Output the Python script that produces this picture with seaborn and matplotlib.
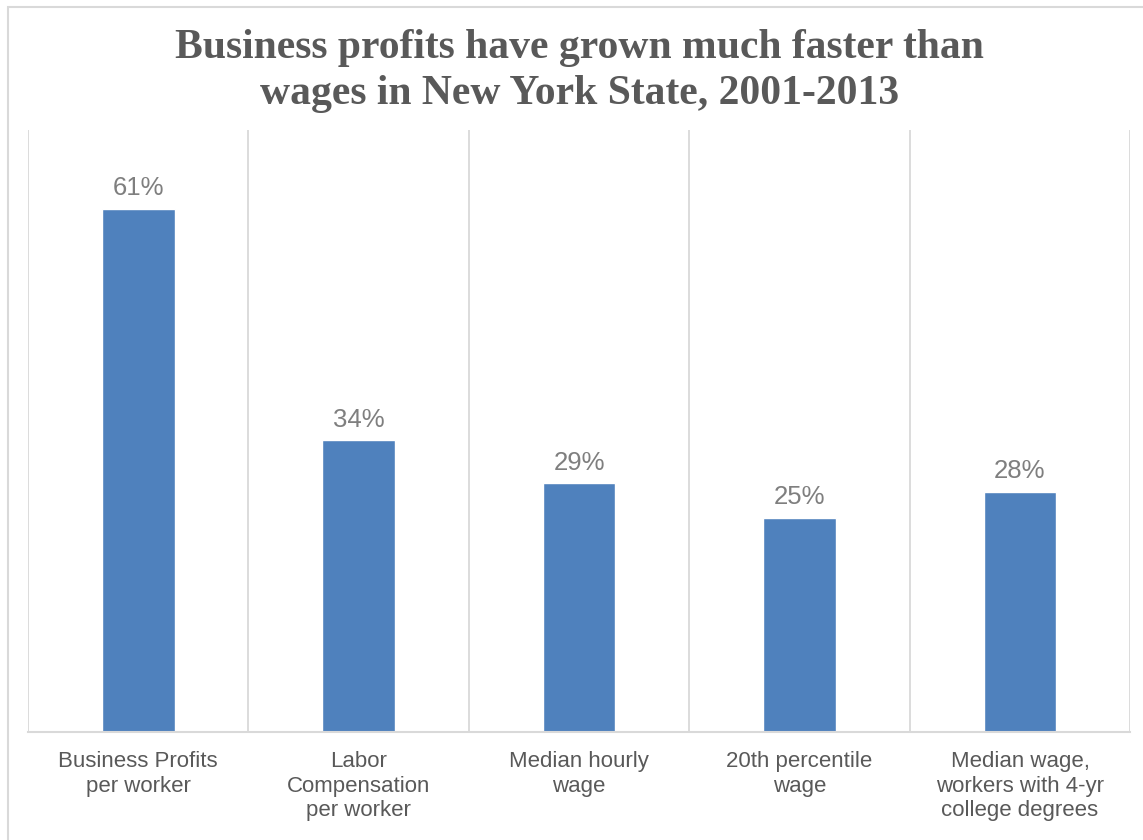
import matplotlib
matplotlib.use("Agg")
import matplotlib.pyplot as plt
import seaborn as sns
import pandas as pd
from matplotlib.patches import Rectangle

# ===== data =====
categories = [
    "Business Profits\nper worker",
    "Labor\nCompensation\nper worker",
    "Median hourly\nwage",
    "20th percentile\nwage",
    "Median wage,\nworkers with 4-yr\ncollege degrees",
]
growth = [61, 34, 29, 25, 28]
value_labels = ["61%", "34%", "29%", "25%", "28%"]

df = pd.DataFrame({"category": categories, "growth": growth})

sns.set_style("white")
plt.rcParams["font.family"] = ["Liberation Sans", "DejaVu Sans"]

fig = plt.figure(figsize=(11.43, 8.4), dpi=100)
ax = fig.add_axes([0.0245, 0.1286, 0.9643, 0.7167])

sns.barplot(data=df, x="category", y="growth", color="#4F81BD",
            saturation=1, width=0.33, ax=ax)

ax.set_xlim(-0.5, 4.5)
ax.set_ylim(0, 70.2)

# vertical separators between categories
for x in [-0.5, 0.5, 1.5, 2.5, 3.5, 4.5]:
    ax.axvline(x, color="#D9D9D9", lw=1.3, zorder=0)

for s in ["top", "left", "right"]:
    ax.spines[s].set_visible(False)
ax.spines["bottom"].set_color("#D9D9D9")
ax.spines["bottom"].set_linewidth(1.5)

ax.set_yticks([])
ax.set_xlabel("")
ax.set_ylabel("")
ax.tick_params(axis="x", length=0, pad=14, labelsize=16, labelcolor="#595959")
for t in ax.get_xticklabels():
    t.set_linespacing(1.22)
    t.set_verticalalignment("top")

for i, (v, lab) in enumerate(zip(growth, value_labels)):
    ax.text(i, v + 1.0, lab, ha="center", va="bottom", fontsize=18.5, color="#7F7F7F")

fig.text(0.507, 0.915, "Business profits have grown much faster than\nwages in New York State, 2001-2013",
         ha="center", va="center", fontsize=30, fontweight="bold", color="#595959",
         family=["Liberation Serif", "DejaVu Serif"], linespacing=1.27)

# outer chart border
fig.patches.append(Rectangle((0.007, -0.05), 1.1, 1.042, transform=fig.transFigure,
                             fill=False, edgecolor="#D9D9D9", lw=1.5))

fig.savefig("out.png", dpi=100)
